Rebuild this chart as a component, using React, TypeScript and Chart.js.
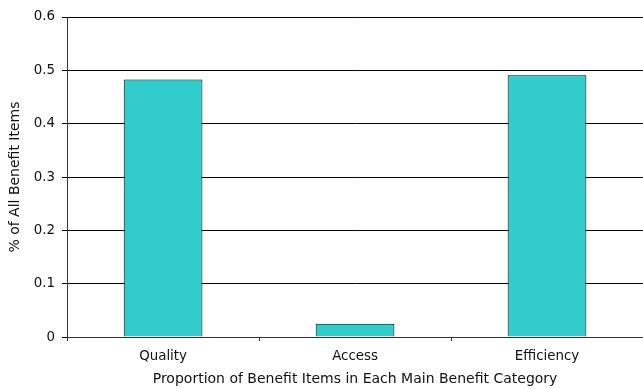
import React, { useEffect, useRef } from "react";
import { Chart, registerables } from "chart.js";

Chart.register(...registerables);

const categories = ["Quality", "Access", "Efficiency"];
const values = [0.483, 0.025, 0.491];
const yTicks = [0, 0.1, 0.2, 0.3, 0.4, 0.5, 0.6];
const xTitle = "Proportion of Benefit Items in Each Main Benefit Category";
const yTitle = "% of All Benefit Items";

export default function App() {
  const ref = useRef<HTMLCanvasElement | null>(null);
  useEffect(() => {
    document.body.style.margin = "0";
    const font = { family: "DejaVu Sans", size: 13.4 };
    const chart = new Chart(ref.current!, {
      type: "bar",
      data: {
        labels: categories,
        datasets: [
          {
            data: values,
            backgroundColor: "#33CCCC",
            borderColor: "#000000",
            borderWidth: 1,
            categoryPercentage: 1,
            barPercentage: 0.41,
          },
        ],
      },
      options: {
        animation: false,
        responsive: false,
        maintainAspectRatio: false,
        layout: { padding: { top: 17, right: 0, left: 7, bottom: 0 } },
        plugins: { legend: { display: false }, tooltip: { enabled: false } },
        scales: {
          x: {
            grid: {
              offset: true,
              drawOnChartArea: false,
              drawTicks: true,
              tickLength: 4,
              color: "#333333",
            },
            border: { display: true, color: "#333333", width: 1 },
            ticks: { font, color: "#111111", padding: 7 },
            title: {
              display: true,
              text: xTitle,
              font: { family: "DejaVu Sans", size: 14 },
              color: "#111111",
              padding: { top: 0, bottom: 1 },
            },
          },
          y: {
            min: 0,
            max: 0.6,
            afterBuildTicks: (axis: any) => {
              axis.ticks = yTicks.map((v) => ({ value: v }));
            },
            grid: {
              color: "#000000",
              drawTicks: true,
              tickLength: 5,
            },
            border: { display: true, color: "#333333", width: 1 },
            ticks: {
              font,
              color: "#111111",
              padding: 7,
              callback: (v: any) => String(Number(v)),
            },
            title: {
              display: true,
              text: yTitle,
              font: { family: "DejaVu Sans", size: 14 },
              color: "#111111",
              padding: { top: 0, bottom: 3 },
            },
          },
        },
      },
    });
    return () => chart.destroy();
  }, []);
  return (
    <div style={{ width: 643, height: 389, background: "#fff" }}>
      <canvas ref={ref} width={643} height={389} />
    </div>
  );
}
